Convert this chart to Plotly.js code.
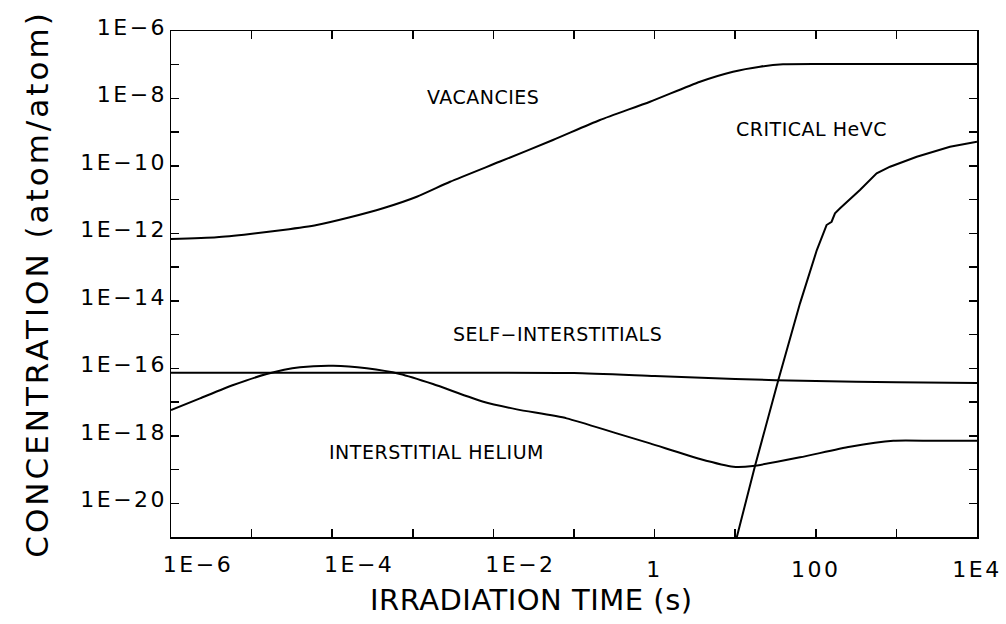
<!DOCTYPE html>
<html>
<head>
<meta charset="utf-8">
<script src="https://cdn.plot.ly/plotly-3.0.1.min.js"></script>
<style>
html, body { margin: 0; padding: 0; background: #ffffff; }
#chart { width: 1006px; height: 624px; }
.xtick text, .x2tick text, .ytick text { letter-spacing: 2.5px; }
.g-ytitle text { letter-spacing: 3px; }
.annotation-text { letter-spacing: 0.5px; }
</style>
</head>
<body>
<div id="chart"></div>
<script>
// ---- data (time in s, concentration in atom/atom) ----
const vacancyTime = [1e-6, 3.69e-6, 9.55e-6, 2.45e-5, 6.43e-5, 1.66e-4, 4.27e-4, 1.12e-3, 2.90e-3,
  1.21e-2, 5.48e-2, 0.210, 0.877, 3.66, 9.40, 20.3, 39.2, 156, 1e4];
const vacancyConc = [6.81e-13, 7.66e-13, 9.59e-13, 1.26e-12, 1.77e-12, 3.00e-12, 5.55e-12, 1.22e-11, 3.40e-11,
  1.35e-10, 5.86e-10, 2.30e-9, 8.02e-9, 3.14e-8, 6.21e-8, 8.75e-8, 1.03e-7, 1.05e-7, 1.05e-7];

const selfIntTime = [1e-6, 1e-4, 1e-2, 0.1, 1, 10, 100, 1000, 1e4];
const selfIntConc = [7.41e-17, 7.41e-17, 7.41e-17, 7.24e-17, 5.9e-17, 4.8e-17, 4.2e-17, 3.9e-17, 3.7e-17];

const heliumTime = [1e-6, 2.29e-6, 5.93e-6, 1.54e-5, 3.98e-5, 1.03e-4, 2.68e-4, 6.93e-4, 1.78e-3,
  7.50e-3, 1.95e-2, 8.11e-2, 0.339, 0.877, 3.66, 9.48, 16.6, 63.7, 265, 916, 2840, 1e4];
const heliumConc = [5.81e-18, 1.29e-17, 3.20e-17, 6.78e-17, 1.07e-16, 1.19e-16, 1.00e-16, 6.78e-17, 3.42e-17,
  1.02e-17, 6.08e-18, 3.29e-18, 1.18e-18, 5.97e-19, 2.05e-19, 1.21e-19, 1.27e-19, 2.30e-19, 4.74e-19, 7.14e-19, 7.14e-19, 7.14e-19];

const criticalTime = [10.4, 17.6, 34.3, 63.7, 103, 136, 157, 173, 200, 353, 569, 834, 1790, 4620, 1e4];
const criticalConc = [9.33e-22, 1.27e-19, 4.50e-17, 8.45e-15, 3.21e-13, 1.77e-12, 2.22e-12, 3.94e-12, 5.55e-12,
  1.93e-11, 6.04e-11, 9.48e-11, 1.88e-10, 3.72e-10, 5.22e-10];

// axis ticks / labels
const xTickVals = [1e-6, 1e-5, 1e-4, 1e-3, 1e-2, 1e-1, 1, 10, 100, 1000, 1e4];
const xTickText = ['', '', '', '', '', '', '1', '', '100', '', '1E4'];
const xExpTickVals = [1e-6, 1e-4, 1e-2];
const xExpTickText = ['1E\u22126', '1E\u22124', '1E\u22122'];
const yTickVals = [1e-6, 1e-7, 1e-8, 1e-9, 1e-10, 1e-11, 1e-12, 1e-13, 1e-14, 1e-15, 1e-16, 1e-17, 1e-18, 1e-19, 1e-20];
const yTickText = ['1E\u22126', '', '1E\u22128', '', '1E\u221210', '', '1E\u221212', '', '1E\u221214', '',
  '1E\u221216', '', '1E\u221218', '', '1E\u221220'];

const curveLabels = ['VACANCIES', 'CRITICAL HeVC', 'SELF\u2212INTERSTITIALS', 'INTERSTITIAL HELIUM'];

const FONT = 'DejaVu Sans, Arial, sans-serif';
const lineStyle = { color: '#000000', width: 2 };

const traces = [
  { x: vacancyTime, y: vacancyConc, name: curveLabels[0], type: 'scatter', mode: 'lines' },
  { x: selfIntTime, y: selfIntConc, name: curveLabels[2], type: 'scatter', mode: 'lines' },
  { x: heliumTime, y: heliumConc, name: curveLabels[3], type: 'scatter', mode: 'lines' },
  { x: criticalTime, y: criticalConc, name: curveLabels[1], type: 'scatter', mode: 'lines', xaxis: 'x2' }
];
traces.forEach(t => { t.line = Object.assign({}, lineStyle, { shape: 'spline', smoothing: 0.6 }); });
traces[3].line.shape = 'linear';

const tickFont = { family: FONT, size: 22, color: '#000' };

const layout = {
  width: 1006, height: 624,
  margin: { l: 171, r: 29, t: 31, b: 87 },
  paper_bgcolor: '#ffffff', plot_bgcolor: '#ffffff',
  showlegend: false,
  font: { family: FONT, color: '#000000' },
  xaxis: {
    type: 'log', range: [-6, 4], autorange: false,
    tickvals: xTickVals, ticktext: xTickText,
    ticks: 'inside', ticklen: 8, tickwidth: 1.5, tickcolor: '#000',
    showline: true, linewidth: 1.5, linecolor: '#000', mirror: 'ticks',
    showgrid: false, zeroline: false,
    tickfont: tickFont, ticklabelstandoff: 12,
    ticklabeloverflow: 'allow'
  },
  xaxis2: {
    type: 'log', range: [-6, 4], autorange: false,
    overlaying: 'x', anchor: 'y', side: 'bottom',
    tickvals: xExpTickVals, ticktext: xExpTickText,
    ticks: '', showline: false, showgrid: false, zeroline: false,
    ticklabelshift: 27, ticklabelstandoff: 12,
    tickfont: tickFont,
    ticklabeloverflow: 'allow'
  },
  yaxis: {
    type: 'log', range: [-21, -6], autorange: false,
    tickvals: yTickVals, ticktext: yTickText,
    ticks: 'inside', ticklen: 8, tickwidth: 1.5, tickcolor: '#000',
    showline: true, linewidth: 1.5, linecolor: '#000', mirror: 'ticks',
    showgrid: false, zeroline: false,
    tickfont: tickFont, ticklabelstandoff: -2, ticklabelshift: -4,
    title: { text: 'CONCENTRATION (atom/atom)', font: { family: FONT, size: 31, color: '#000' }, standoff: 22 }
  },
  annotations: [
    { text: curveLabels[0], xref: 'paper', yref: 'paper', x: 0.387, y: 0.8696, showarrow: false, xanchor: 'center', yanchor: 'middle', font: { family: FONT, size: 19, color: '#000' } },
    { text: curveLabels[1], xref: 'paper', yref: 'paper', x: 0.795, y: 0.807, showarrow: false, xanchor: 'center', yanchor: 'middle', font: { family: FONT, size: 19, color: '#000' } },
    { text: curveLabels[2], xref: 'paper', yref: 'paper', x: 0.479, y: 0.401, showarrow: false, xanchor: 'center', yanchor: 'middle', font: { family: FONT, size: 19, color: '#000' } },
    { text: curveLabels[3], xref: 'paper', yref: 'paper', x: 0.330, y: 0.168, showarrow: false, xanchor: 'center', yanchor: 'middle', font: { family: FONT, size: 19, color: '#000' } },
    { text: 'IRRADIATION TIME (s)', xref: 'paper', yref: 'paper', x: 0.4467, y: -0.1245, showarrow: false, xanchor: 'center', yanchor: 'middle', font: { family: FONT, size: 29, color: '#000' } }
  ]
};

Plotly.newPlot('chart', traces, layout, { staticPlot: true, displayModeBar: false });
</script>
</body>
</html>
